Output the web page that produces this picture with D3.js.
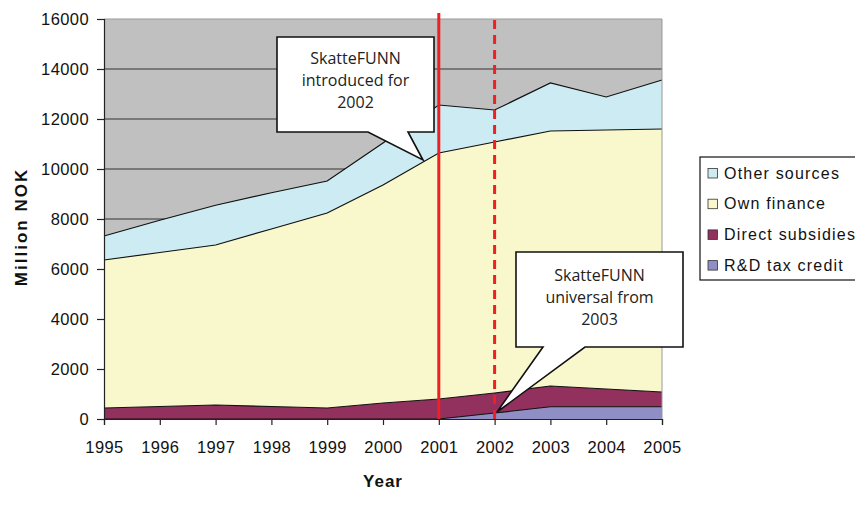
<!DOCTYPE html>
<html><head><meta charset="utf-8">
<script src="https://cdn.jsdelivr.net/npm/d3@7"></script>
<style>body{margin:0;background:#fff}svg{display:block}</style>
</head><body>
<svg id="c" width="855" height="509"></svg>
<script>
const years = [1995,1996,1997,1998,1999,2000,2001,2002,2003,2004,2005];
const rdTaxCredit = [0,0,0,0,0,0,0,240,490,490,490];
const directSubsidies = [440,500,560,500,440,640,800,800,830,710,590];
const ownFinance = [5920,6160,6400,7100,7800,8720,9840,10040,10200,10360,10520];
const otherSources = [960,1290,1590,1450,1280,1680,1920,1280,1920,1320,1960];
const yTicks = [0,2000,4000,6000,8000,10000,12000,14000,16000];
const seriesNames = ["R&D tax credit","Direct subsidies","Own finance","Other sources"];
const colors = ["#8f8fc5","#92305e","#f9f8cc","#cdebf2"];
const callouts = [
  {lines:["SkatteFUNN","introduced for","2002"]},
  {lines:["SkatteFUNN","universal from","2003"]}
];

const svg = d3.select("#c");
const L=104,R=662,T=19,B=419;
const x = d3.scaleLinear().domain([1995,2005]).range([L,R]);
const y = d3.scaleLinear().domain([0,16000]).range([B,T]);

svg.append("rect").attr("x",L).attr("y",T).attr("width",R-L).attr("height",B-T).attr("fill","#c0c0c0");
svg.append("g").selectAll("line").data(yTicks.filter(d=>d>0&&d<16000)).join("line")
  .attr("x1",L).attr("x2",R).attr("y1",d=>y(d)).attr("y2",d=>y(d)).attr("stroke","#333").attr("stroke-width",1);

const table = years.map((yr,i)=>({year:yr,"R&D tax credit":rdTaxCredit[i],"Direct subsidies":directSubsidies[i],"Own finance":ownFinance[i],"Other sources":otherSources[i]}));
const stack = d3.stack().keys(seriesNames)(table);
const area = d3.area().x(d=>x(d.data.year)).y0(d=>y(d[0])).y1(d=>y(d[1]));
const line = d3.line().x(d=>x(d.data.year)).y(d=>y(d[1]));
svg.append("g").selectAll("path").data(stack).join("path").attr("d",area).attr("fill",(d,i)=>colors[i]);
svg.append("g").selectAll("path").data(stack).join("path").attr("d",line).attr("fill","none").attr("stroke","#111").attr("stroke-width",1.2);

// plot border
svg.append("path").attr("d",`M${L},${T}H${R}V${B}`).attr("fill","none").attr("stroke","#999").attr("stroke-width",1);

// axes
const ya = svg.append("g").attr("transform",`translate(${L},0)`).call(d3.axisLeft(y).tickValues(yTicks).tickSize(7).tickPadding(8).tickFormat(d3.format("d")));
const xa = svg.append("g").attr("transform",`translate(0,${B})`).call(d3.axisBottom(x).tickValues(years).tickSize(6).tickPadding(16).tickFormat(d3.format("d")));
[ya,xa].forEach(a=>{a.selectAll("text").attr("font-family","Liberation Sans, Arial").attr("font-size",16.5).attr("letter-spacing","0.4px").attr("fill","#111");
  a.selectAll("line,path").attr("stroke","#222").attr("stroke-width",1.2);});

// red lines
svg.append("line").attr("x1",x(2001)).attr("x2",x(2001)).attr("y1",13).attr("y2",B).attr("stroke","#ee2024").attr("stroke-width",3);
svg.append("line").attr("x1",x(2002)).attr("x2",x(2002)).attr("y1",20).attr("y2",B).attr("stroke","#ee2024").attr("stroke-width",3).attr("stroke-dasharray","9,6");

// callouts
function callout(c,bx,by,bw,bh,t1,t2,tip,first){
  const p = `M${bx},${by}H${bx+bw}V${by+bh}H${t2}L${tip[0]},${tip[1]}L${t1},${by+bh}H${bx}Z`;
  svg.append("path").attr("d",p).attr("fill","#fff").attr("stroke","#111").attr("stroke-width",1.6);
  svg.append("g").selectAll("text").data(c.lines).join("text").attr("x",bx+bw/2).attr("y",(d,i)=>by+first+i*22)
    .attr("text-anchor","middle").attr("font-family","Open Sans, Noto Sans").attr("font-size",16).attr("fill","#222").text(d=>d);
}
callout(callouts[0],277,37,157,95,368,408,[423,160],27);
callout(callouts[1],516,252,167,95,543,585,[497,412],29);

// legend
const lg = svg.append("g");
lg.append("rect").attr("x",700).attr("y",157).attr("width",170).attr("height",123).attr("fill","#fff").attr("stroke","#111").attr("stroke-width",1.2);
const order = [3,2,1,0];
order.forEach((si,k)=>{
  const yy = 173+k*30.7;
  lg.append("rect").attr("x",708).attr("y",yy-4.5).attr("width",9.5).attr("height",9.5).attr("fill",colors[si]).attr("stroke","#333").attr("stroke-width",0.8);
  lg.append("text").attr("x",724).attr("y",yy+5.5).attr("font-family","Liberation Sans, Arial").attr("font-size",16).attr("letter-spacing","1.2px").attr("fill","#111").text(seriesNames[si]);
});

// axis titles
svg.append("text").attr("transform","translate(27,227) rotate(-90)").attr("text-anchor","middle").attr("font-family","Liberation Sans, Arial").attr("font-weight","bold").attr("font-size",17).attr("letter-spacing","2px").attr("fill","#111").text("Million NOK");
svg.append("text").attr("x",383).attr("y",487).attr("text-anchor","middle").attr("font-family","Liberation Sans, Arial").attr("font-weight","bold").attr("font-size",17).attr("letter-spacing","1px").attr("fill","#111").text("Year");
</script>
</body></html>
